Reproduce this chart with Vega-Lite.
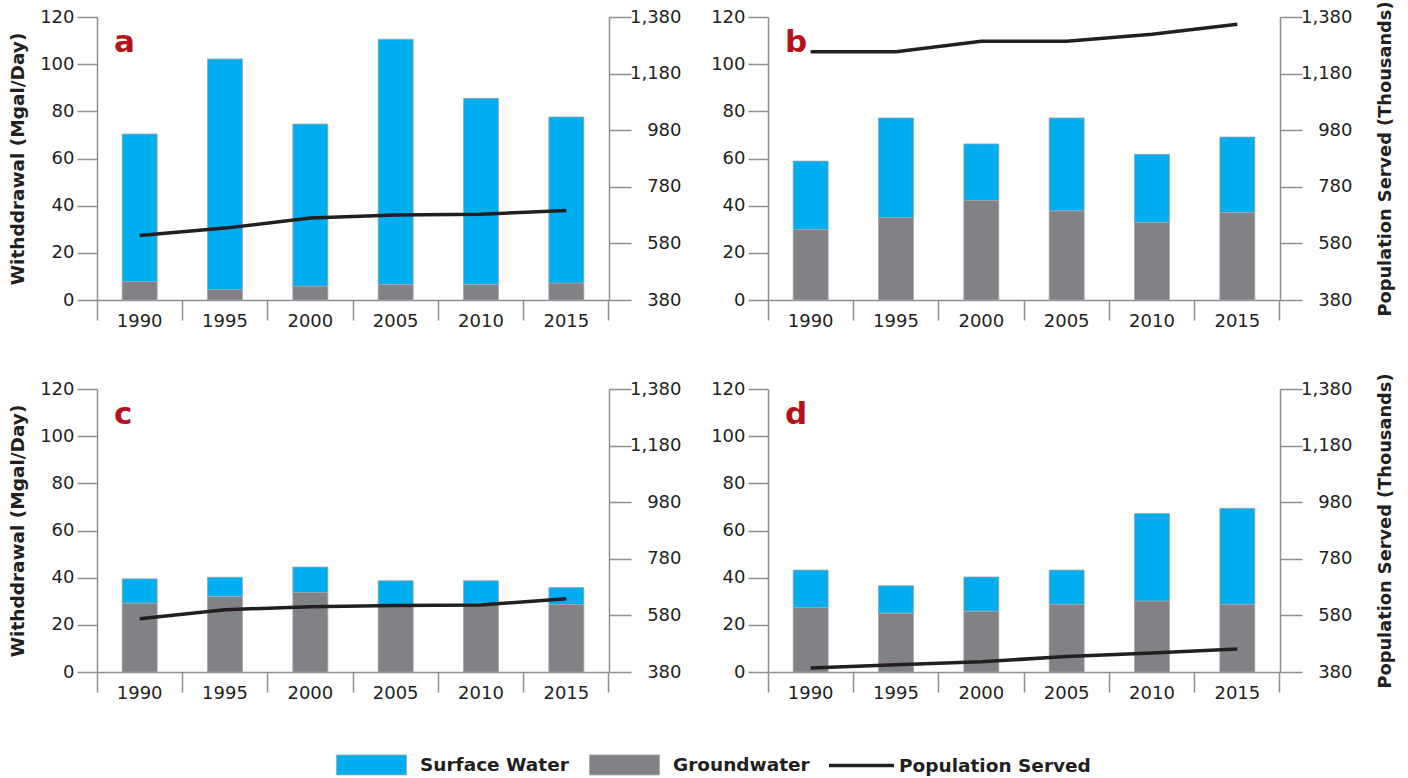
{
  "$schema": "https://vega.github.io/schema/vega-lite/v6.json",
  "padding": {"left": 8, "top": 0, "right": 5, "bottom": 5},
  "background": "white",
  "datasets": {
    "water": [
      {"panel": "a", "year": "1990", "source": "Groundwater", "value": 7.8},
      {"panel": "a", "year": "1990", "source": "Surface Water", "value": 62.6},
      {"panel": "a", "year": "1995", "source": "Groundwater", "value": 4.4},
      {"panel": "a", "year": "1995", "source": "Surface Water", "value": 97.8},
      {"panel": "a", "year": "2000", "source": "Groundwater", "value": 5.9},
      {"panel": "a", "year": "2000", "source": "Surface Water", "value": 68.7},
      {"panel": "a", "year": "2005", "source": "Groundwater", "value": 6.6},
      {"panel": "a", "year": "2005", "source": "Surface Water", "value": 104.0},
      {"panel": "a", "year": "2010", "source": "Groundwater", "value": 6.6},
      {"panel": "a", "year": "2010", "source": "Surface Water", "value": 78.9},
      {"panel": "a", "year": "2015", "source": "Groundwater", "value": 7.2},
      {"panel": "a", "year": "2015", "source": "Surface Water", "value": 70.4},
      {"panel": "b", "year": "1990", "source": "Groundwater", "value": 29.9},
      {"panel": "b", "year": "1990", "source": "Surface Water", "value": 29.0},
      {"panel": "b", "year": "1995", "source": "Groundwater", "value": 35.0},
      {"panel": "b", "year": "1995", "source": "Surface Water", "value": 42.2},
      {"panel": "b", "year": "2000", "source": "Groundwater", "value": 42.2},
      {"panel": "b", "year": "2000", "source": "Surface Water", "value": 24.0},
      {"panel": "b", "year": "2005", "source": "Groundwater", "value": 37.8},
      {"panel": "b", "year": "2005", "source": "Surface Water", "value": 39.4},
      {"panel": "b", "year": "2010", "source": "Groundwater", "value": 32.9},
      {"panel": "b", "year": "2010", "source": "Surface Water", "value": 28.9},
      {"panel": "b", "year": "2015", "source": "Groundwater", "value": 37.1},
      {"panel": "b", "year": "2015", "source": "Surface Water", "value": 32.0},
      {"panel": "c", "year": "1990", "source": "Groundwater", "value": 29.2},
      {"panel": "c", "year": "1990", "source": "Surface Water", "value": 10.3},
      {"panel": "c", "year": "1995", "source": "Groundwater", "value": 32.0},
      {"panel": "c", "year": "1995", "source": "Surface Water", "value": 8.2},
      {"panel": "c", "year": "2000", "source": "Groundwater", "value": 33.7},
      {"panel": "c", "year": "2000", "source": "Surface Water", "value": 10.8},
      {"panel": "c", "year": "2005", "source": "Groundwater", "value": 28.2},
      {"panel": "c", "year": "2005", "source": "Surface Water", "value": 10.5},
      {"panel": "c", "year": "2010", "source": "Groundwater", "value": 28.9},
      {"panel": "c", "year": "2010", "source": "Surface Water", "value": 9.8},
      {"panel": "c", "year": "2015", "source": "Groundwater", "value": 28.6},
      {"panel": "c", "year": "2015", "source": "Surface Water", "value": 7.2},
      {"panel": "d", "year": "1990", "source": "Groundwater", "value": 27.3},
      {"panel": "d", "year": "1990", "source": "Surface Water", "value": 15.9},
      {"panel": "d", "year": "1995", "source": "Groundwater", "value": 24.9},
      {"panel": "d", "year": "1995", "source": "Surface Water", "value": 11.7},
      {"panel": "d", "year": "2000", "source": "Groundwater", "value": 25.8},
      {"panel": "d", "year": "2000", "source": "Surface Water", "value": 14.5},
      {"panel": "d", "year": "2005", "source": "Groundwater", "value": 28.7},
      {"panel": "d", "year": "2005", "source": "Surface Water", "value": 14.5},
      {"panel": "d", "year": "2010", "source": "Groundwater", "value": 30.1},
      {"panel": "d", "year": "2010", "source": "Surface Water", "value": 37.1},
      {"panel": "d", "year": "2015", "source": "Groundwater", "value": 28.7},
      {"panel": "d", "year": "2015", "source": "Surface Water", "value": 40.7}
    ],
    "pop": [
      {"panel": "a", "year": "1990", "population": 608},
      {"panel": "a", "year": "1995", "population": 634},
      {"panel": "a", "year": "2000", "population": 670},
      {"panel": "a", "year": "2005", "population": 680},
      {"panel": "a", "year": "2010", "population": 683},
      {"panel": "a", "year": "2015", "population": 696},
      {"panel": "b", "year": "1990", "population": 1257},
      {"panel": "b", "year": "1995", "population": 1257},
      {"panel": "b", "year": "2000", "population": 1294},
      {"panel": "b", "year": "2005", "population": 1294},
      {"panel": "b", "year": "2010", "population": 1319},
      {"panel": "b", "year": "2015", "population": 1354},
      {"panel": "c", "year": "1990", "population": 568},
      {"panel": "c", "year": "1995", "population": 600},
      {"panel": "c", "year": "2000", "population": 611},
      {"panel": "c", "year": "2005", "population": 615},
      {"panel": "c", "year": "2010", "population": 617},
      {"panel": "c", "year": "2015", "population": 639},
      {"panel": "d", "year": "1990", "population": 394},
      {"panel": "d", "year": "1995", "population": 406},
      {"panel": "d", "year": "2000", "population": 416},
      {"panel": "d", "year": "2005", "population": 435},
      {"panel": "d", "year": "2010", "population": 447},
      {"panel": "d", "year": "2015", "population": 461}
    ],
    "labels": [
      {"panel": "a"}, {"panel": "b"}, {"panel": "c"}, {"panel": "d"}
    ]
  },
  "config": {
    "view": {"stroke": null},
    "font": "DejaVu Sans",
    "axis": {
      "domainColor": "#8c8f93",
      "domainWidth": 1.5,
      "tickColor": "#8c8f93",
      "tickWidth": 1.5,
      "labelColor": "#231f20",
      "labelFont": "DejaVu Sans",
      "labelFontSize": 18,
      "titleFont": "DejaVu Sans",
      "titleFontSize": 18.5,
      "titleFontWeight": "bold",
      "titleColor": "#231f20",
      "grid": false
    },
    "legend": {
      "title": null, "orient": "none", "direction": "horizontal", "padding": 0,
      "labelFont": "DejaVu Sans", "labelFontSize": 18.5, "labelFontWeight": "bold", "labelColor": "#231f20", "labelLimit": 300
    },
    "bar": {"stroke": "#a3a6a9", "strokeWidth": 0.8},
    "text": {"font": "DejaVu Sans", "fontSize": 31, "fontWeight": "bold", "color": "#b5121b", "align": "left", "baseline": "alphabetic", "dx": -25.7}
  },
  "columns": 2,
  "bounds": "flush",
  "spacing": {"row": 89, "column": 159},
  "concat": [
    {
      "width": 512, "height": 283,
      "layer": [
        {
          "data": {"name": "water"},
          "transform": [{"filter": "datum.panel === 'a'"}],
          "mark": {"type": "bar", "width": {"band": 0.41}},
          "encoding": {
            "x": {"field": "year", "type": "nominal", "scale": {"paddingInner": 0, "paddingOuter": 0},
                  "axis": {"title": null, "labelAngle": 0, "bandPosition": 1, "tickExtra": true, "tickSize": 20, "labelPadding": -8}},
            "y": {"field": "value", "type": "quantitative", "stack": "zero", "scale": {"domain": [0, 120]},
                  "axis": {"title": "Withddrawal (Mgal/Day)", "values": [0, 20, 40, 60, 80, 100, 120], "tickSize": 20, "labelPadding": 3, "titlePadding": 12}},
            "color": {"field": "source", "type": "nominal",
                      "scale": {"domain": ["Surface Water", "Groundwater"], "range": ["#00aeef", "#808285"]},
                      "legend": {"legendX": 239, "legendY": 712,
                                 "symbolType": "M-1,-0.2857H1V0.2857H-1Z", "symbolSize": 4900, "symbolStrokeWidth": 0,
                                 "labelOffset": 13, "columnPadding": 18}},
            "order": {"field": "source", "type": "ordinal", "sort": "ascending"}
          }
        },
        {
          "data": {"name": "pop"},
          "transform": [{"filter": "datum.panel === 'a'"}],
          "mark": {"type": "line", "strokeWidth": 3.5},
          "encoding": {
            "x": {"field": "year", "type": "nominal"},
            "y": {"field": "population", "type": "quantitative", "scale": {"domain": [380, 1380]},
                  "axis": {"orient": "right", "title": null, "values": [380, 580, 780, 980, 1180, 1380], "format": ",d", "tickSize": 22, "labelAlign": "right", "labelPadding": 50}},
            "stroke": {"datum": "Population Served", "type": "nominal",
                       "scale": {"domain": ["Population Served"], "range": ["#231f20"]},
                       "legend": {"legendX": 730, "legendY": 714, "symbolType": "stroke", "symbolSize": 4225, "symbolStrokeWidth": 3.5, "labelOffset": 3}}
          }
        },
        {
          "data": {"name": "labels"},
          "transform": [{"filter": "datum.panel === 'a'"}],
          "mark": {"type": "text"},
          "encoding": {
            "x": {"datum": "1990"},
            "y": {"datum": 105.2, "type": "quantitative", "scale": {"domain": [0, 120]}, "axis": null},
            "text": {"field": "panel"}
          }
        }
      ],
      "resolve": {"scale": {"y": "independent"}}
    },
    {
      "width": 512, "height": 283,
      "layer": [
        {
          "data": {"name": "water"},
          "transform": [{"filter": "datum.panel === 'b'"}],
          "mark": {"type": "bar", "width": {"band": 0.41}},
          "encoding": {
            "x": {"field": "year", "type": "nominal", "scale": {"paddingInner": 0, "paddingOuter": 0},
                  "axis": {"title": null, "labelAngle": 0, "bandPosition": 1, "tickExtra": true, "tickSize": 20, "labelPadding": -8}},
            "y": {"field": "value", "type": "quantitative", "stack": "zero", "scale": {"domain": [0, 120]},
                  "axis": {"title": null, "values": [0, 20, 40, 60, 80, 100, 120], "tickSize": 20, "labelPadding": 3}},
            "color": {"field": "source", "type": "nominal"},
            "order": {"field": "source", "type": "ordinal", "sort": "ascending"}
          }
        },
        {
          "data": {"name": "pop"},
          "transform": [{"filter": "datum.panel === 'b'"}],
          "mark": {"type": "line", "strokeWidth": 3.5},
          "encoding": {
            "x": {"field": "year", "type": "nominal"},
            "y": {"field": "population", "type": "quantitative", "scale": {"domain": [380, 1380]},
                  "axis": {"orient": "right", "title": "Population Served (Thousands)", "titleAngle": 270, "titleFontSize": 17.8, "titlePadding": 42, "values": [380, 580, 780, 980, 1180, 1380], "format": ",d", "tickSize": 22, "labelAlign": "right", "labelPadding": 50}},
            "stroke": {"datum": "Population Served", "type": "nominal"}
          }
        },
        {
          "data": {"name": "labels"},
          "transform": [{"filter": "datum.panel === 'b'"}],
          "mark": {"type": "text"},
          "encoding": {
            "x": {"datum": "1990"},
            "y": {"datum": 105.2, "type": "quantitative", "scale": {"domain": [0, 120]}, "axis": null},
            "text": {"field": "panel"}
          }
        }
      ],
      "resolve": {"scale": {"y": "independent"}}
    },
    {
      "width": 512, "height": 283,
      "layer": [
        {
          "data": {"name": "water"},
          "transform": [{"filter": "datum.panel === 'c'"}],
          "mark": {"type": "bar", "width": {"band": 0.41}},
          "encoding": {
            "x": {"field": "year", "type": "nominal", "scale": {"paddingInner": 0, "paddingOuter": 0},
                  "axis": {"title": null, "labelAngle": 0, "bandPosition": 1, "tickExtra": true, "tickSize": 20, "labelPadding": -8}},
            "y": {"field": "value", "type": "quantitative", "stack": "zero", "scale": {"domain": [0, 120]},
                  "axis": {"title": "Withddrawal (Mgal/Day)", "values": [0, 20, 40, 60, 80, 100, 120], "tickSize": 20, "labelPadding": 3, "titlePadding": 12}},
            "color": {"field": "source", "type": "nominal"},
            "order": {"field": "source", "type": "ordinal", "sort": "ascending"}
          }
        },
        {
          "data": {"name": "pop"},
          "transform": [{"filter": "datum.panel === 'c'"}],
          "mark": {"type": "line", "strokeWidth": 3.5},
          "encoding": {
            "x": {"field": "year", "type": "nominal"},
            "y": {"field": "population", "type": "quantitative", "scale": {"domain": [380, 1380]},
                  "axis": {"orient": "right", "title": null, "values": [380, 580, 780, 980, 1180, 1380], "format": ",d", "tickSize": 22, "labelAlign": "right", "labelPadding": 50}},
            "stroke": {"datum": "Population Served", "type": "nominal"}
          }
        },
        {
          "data": {"name": "labels"},
          "transform": [{"filter": "datum.panel === 'c'"}],
          "mark": {"type": "text"},
          "encoding": {
            "x": {"datum": "1990"},
            "y": {"datum": 105.2, "type": "quantitative", "scale": {"domain": [0, 120]}, "axis": null},
            "text": {"field": "panel"}
          }
        }
      ],
      "resolve": {"scale": {"y": "independent"}}
    },
    {
      "width": 512, "height": 283,
      "layer": [
        {
          "data": {"name": "water"},
          "transform": [{"filter": "datum.panel === 'd'"}],
          "mark": {"type": "bar", "width": {"band": 0.41}},
          "encoding": {
            "x": {"field": "year", "type": "nominal", "scale": {"paddingInner": 0, "paddingOuter": 0},
                  "axis": {"title": null, "labelAngle": 0, "bandPosition": 1, "tickExtra": true, "tickSize": 20, "labelPadding": -8}},
            "y": {"field": "value", "type": "quantitative", "stack": "zero", "scale": {"domain": [0, 120]},
                  "axis": {"title": null, "values": [0, 20, 40, 60, 80, 100, 120], "tickSize": 20, "labelPadding": 3}},
            "color": {"field": "source", "type": "nominal"},
            "order": {"field": "source", "type": "ordinal", "sort": "ascending"}
          }
        },
        {
          "data": {"name": "pop"},
          "transform": [{"filter": "datum.panel === 'd'"}],
          "mark": {"type": "line", "strokeWidth": 3.5},
          "encoding": {
            "x": {"field": "year", "type": "nominal"},
            "y": {"field": "population", "type": "quantitative", "scale": {"domain": [380, 1380]},
                  "axis": {"orient": "right", "title": "Population Served (Thousands)", "titleAngle": 270, "titleFontSize": 17.8, "titlePadding": 42, "values": [380, 580, 780, 980, 1180, 1380], "format": ",d", "tickSize": 22, "labelAlign": "right", "labelPadding": 50}},
            "stroke": {"datum": "Population Served", "type": "nominal"}
          }
        },
        {
          "data": {"name": "labels"},
          "transform": [{"filter": "datum.panel === 'd'"}],
          "mark": {"type": "text"},
          "encoding": {
            "x": {"datum": "1990"},
            "y": {"datum": 105.2, "type": "quantitative", "scale": {"domain": [0, 120]}, "axis": null},
            "text": {"field": "panel"}
          }
        }
      ],
      "resolve": {"scale": {"y": "independent"}}
    }
  ]
}
